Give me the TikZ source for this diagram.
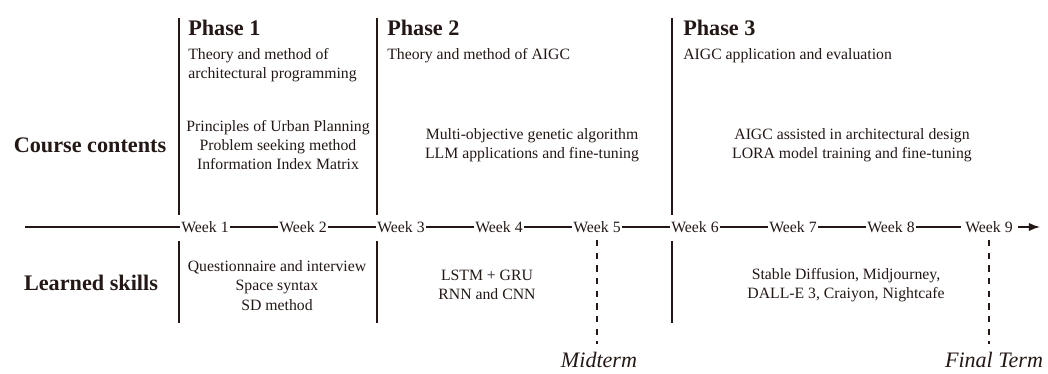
\documentclass[tikz,border=0pt]{standalone}
\usepackage{fontspec}
\setmainfont{Liberation Serif}
\usetikzlibrary{arrows.meta, positioning}
\definecolor{ink}{RGB}{35,24,21}
\tikzstyle{week}=[inner sep=0.6pt, font=\fontsize{11.2}{13.8}\selectfont]
\tikzstyle{txt}=[align=center, inner sep=0pt, font=\fontsize{11.2}{13.8}\selectfont]
\tikzstyle{sub}=[align=left, inner sep=0pt, anchor=north west, font=\fontsize{11.2}{13.5}\selectfont]
\tikzstyle{phase}=[anchor=base west, inner sep=0pt, font=\fontsize{15.8}{18}\selectfont\bfseries]
\tikzstyle{rowlabel}=[inner sep=0pt, font=\fontsize{15.8}{18}\selectfont\bfseries]
\tikzstyle{term}=[inner sep=0pt, font=\fontsize{15.7}{18}\selectfont\itshape]
\tikzstyle{axis}=[line width=1.1pt]
\tikzstyle{bar}=[line width=1.4pt]
\tikzstyle{exam}=[line width=1.1pt, dash pattern=on 4.5pt off 4.5pt]

\begin{document}
\begin{tikzpicture}[>={Latex[length=8pt,width=6pt]}, node distance=2.45cm, color=ink]
    \useasboundingbox (0,0) rectangle (26.2,9.35);
    % timeline
    \coordinate (start) at (0.625,3.675);
    \coordinate (tip) at (26,3.675);
    \node[week] (w1) at (5.125,3.675) {Week 1};
    \node[week, right of=w1] (w2) {Week 2};
    \node[week, right of=w2] (w3) {Week 3};
    \node[week, right of=w3] (w4) {Week 4};
    \node[week, right of=w4] (w5) {Week 5};
    \node[week, right of=w5] (w6) {Week 6};
    \node[week, right of=w6] (w7) {Week 7};
    \node[week, right of=w7] (w8) {Week 8};
    \node[week, right of=w8] (w9) {Week 9};
    \draw[axis] (start) -- (w1) -- (w2) -- (w3) -- (w4) -- (w5) -- (w6) -- (w7) -- (w8);
    \draw[axis] (w8) -- ([xshift=-2pt]w9.west);
    \draw[axis, ->] ([xshift=3pt]w9.east) -- (tip);

    % phase dividers
    \draw[bar] (4.475,8.9) -- (4.475,3.975);
    \draw[bar] (4.475,3.33) -- (4.475,1.275);
    \draw[bar] (9.425,8.9) -- (9.425,3.975);
    \draw[bar] (9.425,3.33) -- (9.425,1.275);
    \draw[bar] (16.8,8.9) -- (16.8,3.975);
    \draw[bar] (16.8,3.33) -- (16.8,1.275);

    % phases
    \node[phase] (p1) at (4.7,8.45) {Phase 1};
    \node[phase] (p2) at (9.675,8.45) {Phase 2};
    \node[phase] (p3) at (17.075,8.45) {Phase 3};
    \node[sub] (p1t) at (4.7,8.15) {Theory and method of\\architectural programming};
    \node[sub] (p2t) at (9.675,8.15) {Theory and method of AIGC};
    \node[sub] (p3t) at (17.075,8.15) {AIGC application and evaluation};

    % course contents
    \node[rowlabel] (cc) at (2.25,5.725) {Course contents};
    \node[txt] (c1) at (6.95,5.725) {Principles of Urban Planning\\Problem seeking method\\Information Index Matrix};
    \node[txt] (c2) at (13.3,5.725) {Multi-objective genetic algorithm\\LLM applications and fine-tuning};
    \node[txt] (c3) at (21.3,5.725) {AIGC assisted in architectural design\\LORA model training and fine-tuning};

    % learned skills
    \node[rowlabel] (ls) at (2.275,2.275) {Learned skills};
    \node[txt] (s1) at (6.925,2.2125) {Questionnaire and interview\\Space syntax\\SD method};
    \node[txt] (s2) at (12.175,2.225) {LSTM + GRU\\RNN and CNN};
    \node[txt] (s3) at (21.15,2.225) {Stable Diffusion, Midjourney,\\DALL-E 3, Craiyon, Nightcafe};

    % exams
    \node[term] (mid) at (14.975,0.36) {Midterm};
    \node[term] (fin) at (24.85,0.36) {Final Term};
    \draw[exam] ([yshift=-0.325cm]w5.center) -- ([yshift=0.39cm]w5 |- mid.center);
    \draw[exam] ([yshift=-0.325cm]w9.center) -- ([yshift=0.39cm]w9 |- fin.center);
\end{tikzpicture}
\end{document}
